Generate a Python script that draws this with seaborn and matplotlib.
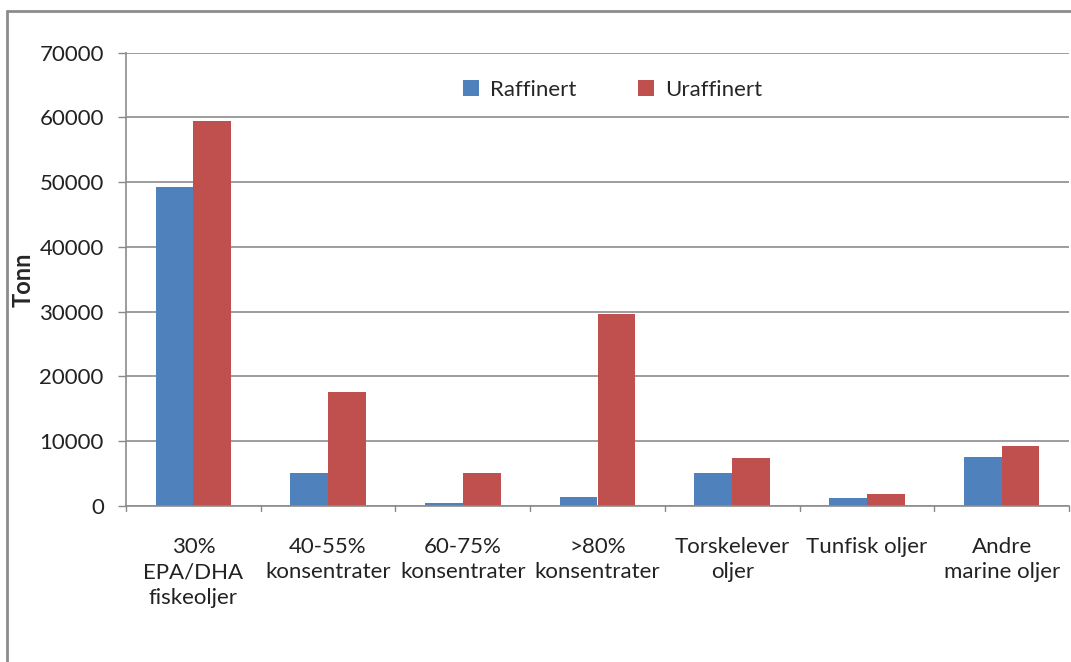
import matplotlib
matplotlib.use("Agg")
import matplotlib.pyplot as plt
import seaborn as sns
import pandas as pd
from matplotlib.lines import Line2D

categories = ["30%\nEPA/DHA\nfiskeoljer", "40-55%\nkonsentrater", "60-75%\nkonsentrater",
              ">80%\nkonsentrater", "Torskelever\noljer", "Tunfisk oljer", "Andre\nmarine oljer"]
raffinert = [49300, 5050, 420, 1450, 5050, 1240, 7600]
uraffinert = [59450, 17600, 5050, 29650, 7400, 1800, 9200]
series_names = ["Raffinert", "Uraffinert"]
colors = ["#4F81BD", "#C0504D"]
yticks = [0, 10000, 20000, 30000, 40000, 50000, 60000, 70000]

df = pd.DataFrame({
    "Kategori": categories * 2,
    "Serie": [series_names[0]] * len(categories) + [series_names[1]] * len(categories),
    "Tonn": raffinert + uraffinert,
})

sns.set_theme(style="white")
plt.rcParams["font.family"] = ["Lato", "DejaVu Sans"]

fig = plt.figure(figsize=(10.71, 6.62), dpi=100)
ax = fig.add_axes([126/1071, 1-506/662, (1069-126)/1071, (506-52.7)/662])

sns.barplot(data=df, x="Kategori", y="Tonn", hue="Serie", palette=colors,
            width=0.56, gap=0, ax=ax, linewidth=0, saturation=1)

ax.set_ylim(0, 70000)
ax.set_xlim(-0.5, len(categories) - 0.5)
ax.set_yticks(yticks)
ax.set_yticklabels([str(v) for v in yticks], fontsize=16, color="#222222")
ax.set_xticks(range(len(categories)))
ax.set_xticklabels(categories, fontsize=16, color="#222222", linespacing=1.35)
ax.tick_params(axis="x", length=0, pad=22)
ax.tick_params(axis="y", length=6, width=1, color="#888888", direction="out", pad=10, left=True)
# boundary ticks on x axis
for b in range(len(categories) + 1):
    ax.plot([b - 0.5, b - 0.5], [0, -0.012], transform=ax.get_xaxis_transform(),
            color="#888888", lw=1, clip_on=False)

ax.yaxis.grid(True, color="#8c8c8c", lw=1.2)
ax.set_axisbelow(True)
for s in ["top", "right"]:
    ax.spines[s].set_visible(False)
for s in ["left", "bottom"]:
    ax.spines[s].set_color("#8c8c8c")
    ax.spines[s].set_linewidth(1.2)

ax.set_xlabel("")
ax.set_ylabel("Tonn", fontsize=17, fontweight="bold", labelpad=2)
ax.yaxis.set_label_coords(-0.097, 0.5)

leg = ax.legend(loc="center", bbox_to_anchor=(0.516, 0.918), ncol=2, frameon=False,
                fontsize=16, handlelength=0.7, handleheight=0.7, columnspacing=2.8,
                handletextpad=0.5)

# outer frame (top and left)
fig.add_artist(Line2D([7/1071, 1.0], [1-11/662, 1-11/662], color="#8c8c8c", lw=2))
fig.add_artist(Line2D([7/1071, 7/1071], [0, 1-11/662], color="#8c8c8c", lw=2))

fig.savefig("out.png", dpi=100)
